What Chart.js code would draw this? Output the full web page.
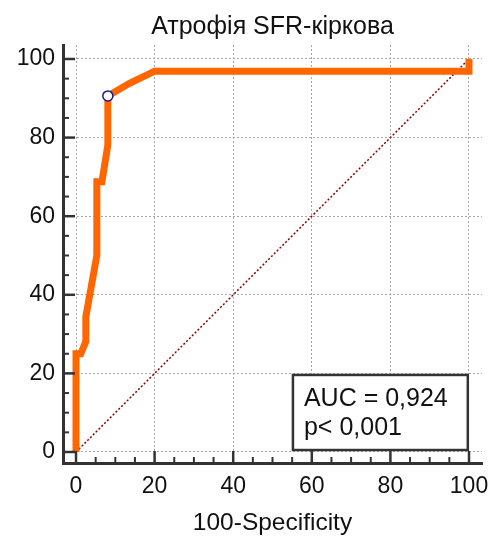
<!DOCTYPE html>
<html><head><meta charset="utf-8">
<script src="https://cdn.jsdelivr.net/npm/chart.js@4/dist/chart.umd.min.js"></script>
<style>html,body{margin:0;padding:0;background:#fff}</style>
</head><body>
<canvas id="c" width="496" height="537" style="width:496px;height:537px;display:block"></canvas>
<script>
const titleText = 'Атрофія SFR-кіркова';
const xAxisTitle = '100-Specificity';
const rocX = [0, 0, 1.2, 2.5, 2.5, 5.3, 5.3, 6.6, 8.1, 8.1, 13.5, 20, 100, 100];
const rocY = [0, 25, 25, 28.1, 34.4, 50, 68.75, 68.75, 78.1, 90.6, 93.75, 96.9, 96.9, 100];
const diagX = [0, 100];
const diagY = [0, 100];
const cutX = [8.1];
const cutY = [90.6];
const majorTicks = [0, 20, 40, 60, 80, 100];
const minorTicks = [0,5,10,15,20,25,30,35,40,45,50,55,60,65,70,75,80,85,90,95,100];
const aucLines = ['AUC = 0,924', 'p< 0,001'];

const FONT = "'Liberation Sans', Arial, sans-serif";
const pts = (xs, ys) => xs.map((x, i) => ({x: x, y: ys[i]}));
const isMajor = v => majorTicks.indexOf(v) >= 0;

const tickPlugin = {
  id: 'ticksAndBox',
  afterDatasetsDraw(chart) {
    const ctx = chart.ctx, xs = chart.scales.x, ys = chart.scales.y, a = chart.chartArea;
    ctx.save();
    ctx.fillStyle = '#111';
    ctx.font = '25px ' + FONT;
    ctx.textAlign = 'center';
    ctx.textBaseline = 'middle';
    ctx.fillText(titleText, (a.left + a.right) / 2, 27);
    ctx.strokeStyle = '#333';
    minorTicks.forEach(v => {
      const m = isMajor(v);
      ctx.lineWidth = m ? 2.5 : 2;
      const len = m ? 12 : 6;
      const px = xs.getPixelForValue(v);
      ctx.beginPath(); ctx.moveTo(px, a.bottom); ctx.lineTo(px, a.bottom - len); ctx.stroke();
      const py = ys.getPixelForValue(v);
      ctx.beginPath(); ctx.moveTo(a.left, py); ctx.lineTo(a.left + len, py); ctx.stroke();
    });
    const bx = xs.getPixelForValue(55.2), bx2 = xs.getPixelForValue(99.7);
    const by = ys.getPixelForValue(19.6), by2 = ys.getPixelForValue(0.5);
    ctx.fillStyle = '#fff';
    ctx.fillRect(bx, by, bx2 - bx, by2 - by);
    ctx.lineWidth = 2.5;
    ctx.strokeStyle = '#333';
    ctx.strokeRect(bx, by, bx2 - bx, by2 - by);
    ctx.fillStyle = '#111';
    ctx.font = '25px ' + FONT;
    ctx.textAlign = 'left';
    ctx.textBaseline = 'middle';
    ctx.fillText(aucLines[0], bx + 11, by + 24);
    ctx.fillText(aucLines[1], bx + 11, by + 53);
    ctx.restore();
  }
};

const gridColor = c => (c.tick && isMajor(c.tick.value)) ? '#a8a8a8' : 'rgba(0,0,0,0)';

new Chart(document.getElementById('c'), {
  type: 'scatter',
  data: {
    datasets: [
      { label: 'cut', data: pts(cutX, cutY), showLine: false, pointRadius: 5,
        pointBorderColor: '#1a1a8c', pointBackgroundColor: '#ffffff', pointBorderWidth: 1.5, order: 0 },
      { label: 'roc', data: pts(rocX, rocY), showLine: true, borderColor: '#ff6600', borderWidth: 7,
        pointRadius: 0, tension: 0, fill: false, order: 1 },
      { label: 'diag', data: pts(diagX, diagY), showLine: true, borderColor: '#8b0000', borderWidth: 1.5,
        borderDash: [2, 2], pointRadius: 0, fill: false, order: 2 }
    ]
  },
  options: {
    responsive: false,
    animation: false,
    devicePixelRatio: 1,
    layout: { padding: { left: 0, right: 14, top: 45, bottom: 0 } },
    plugins: {
      legend: { display: false },
      tooltip: { enabled: false },
      title: { display: false }
    },
    scales: {
      x: {
        type: 'linear', min: -3.31, max: 103.31,
        afterBuildTicks: s => { s.ticks = minorTicks.map(v => ({value: v})); },
        afterFit: s => { s.height = 74; s.paddingLeft = 0; s.paddingRight = 0; },
        ticks: { autoSkip: false, maxRotation: 0, padding: 10, color: '#111',
          font: { family: FONT, size: 23 }, callback: v => isMajor(v) ? String(v) : '' },
        grid: { color: gridColor, lineWidth: 1, drawTicks: false, borderDash: [2, 2] },
        border: { display: true, color: '#333', width: 3, dash: [2, 2] },
        title: { display: true, text: xAxisTitle, color: '#111',
          font: { family: FONT, size: 24.5 }, padding: { top: 0, bottom: -1 } }
      },
      y: {
        type: 'linear', min: -2.8, max: 103.56,
        afterBuildTicks: s => { s.ticks = minorTicks.map(v => ({value: v})); },
        afterFit: s => { s.width = 63; s.paddingTop = 0; s.paddingBottom = 0; },
        ticks: { autoSkip: false, padding: 8, color: '#111',
          font: { family: FONT, size: 23 }, callback: v => isMajor(v) ? String(v) : '' },
        grid: { color: gridColor, lineWidth: 1, drawTicks: false, borderDash: [2, 2] },
        border: { display: true, color: '#333', width: 3, dash: [2, 2] }
      }
    }
  },
  plugins: [tickPlugin]
});
</script>
</body></html>
